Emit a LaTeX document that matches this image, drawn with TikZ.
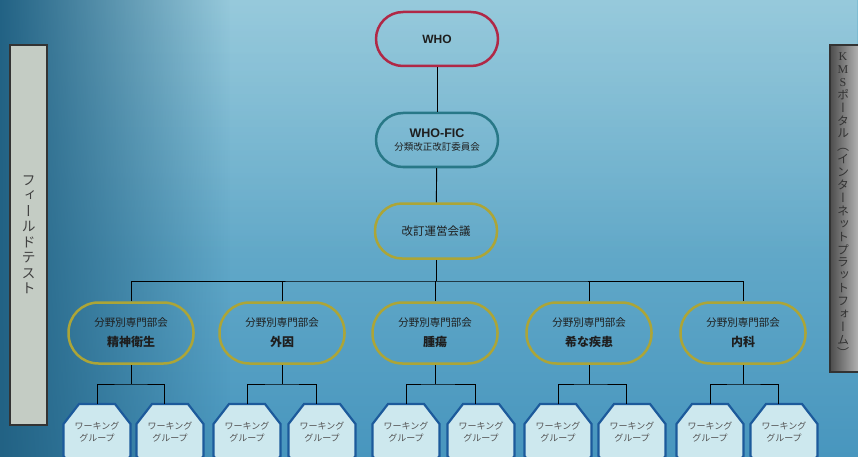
\documentclass[tikz,border=0pt]{standalone}
\usepackage{fontspec}
\newfontfamily\jp{Noto Sans CJK JP}
\newfontfamily\jpv[RawFeature=+vert]{Noto Sans CJK JP}
\newfontfamily\lat{Liberation Sans}
\newfontfamily\latser{Liberation Serif}
\usetikzlibrary{fadings}
\definecolor{bgtop}{RGB}{128,190,212}
\definecolor{bgbot}{RGB}{72,150,190}
\definecolor{bgdark}{RGB}{34,98,132}
\definecolor{whored}{RGB}{176,40,70}
\definecolor{ficteal}{RGB}{40,120,135}
\definecolor{olivebd}{RGB}{172,165,55}
\definecolor{octfill}{RGB}{205,232,238}
\definecolor{octline}{RGB}{28,90,155}
\definecolor{barfill}{RGB}{196,204,196}
\definecolor{txt}{RGB}{30,30,30}
\definecolor{octtxt}{RGB}{85,85,85}
\begin{document}
\begin{tikzpicture}[x=1pt,y=-1pt,
  pill/.style={draw, line width=2.5pt, rounded corners=27pt, minimum width=122pt,
    minimum height=54pt, inner sep=0pt, align=center, text=txt,
    font=\jp\fontsize{11.5}{14}\selectfont},
  bunya/.style={pill, draw=olivebd, minimum width=125pt, minimum height=61pt,
    rounded corners=30pt, font=\jp\fontsize{10.5}{13}\selectfont},
  conn/.style={draw=black, line width=0.9pt},
  octo/.style={draw=octline, fill=octfill, line width=2.2pt},
  wgtext/.style={anchor=north, minimum width=67pt, minimum height=56pt, inner sep=0pt,
    align=center, text=octtxt, font=\jp\fontsize{9}{11.5}\selectfont},
  sidebar/.style={draw=black!80, line width=1.2pt, inner sep=0pt}
]
\useasboundingbox (0,0) rectangle (858,457);
\clip (0,0) rectangle (858,457);
% background
\shade[top color=bgtop, bottom color=bgbot] (0,0) rectangle (858,457);
\fill[white, opacity=0.18, path fading=south] (0,0) rectangle (858,260);
\fill[bgdark, path fading=east] (0,0) rectangle (230,457);

% side bars
\node[sidebar, fill=barfill, minimum width=37pt, minimum height=380pt] (field) at (28.5,235) {};
\node[text=black!75, align=center, inner sep=0pt, font=\jpv\fontsize{14}{15.5}\selectfont] (fieldtxt) at (28.5,235)
  {フ\\ィ\\ー\\ル\\ド\\テ\\ス\\ト};
\node[sidebar, left color=black!70, right color=black!8, minimum width=44pt, minimum height=327pt] (kmsbar) at (852,208.5) {};
\node[text=black!80, align=center, inner sep=0pt, font=\jpv\fontsize{12}{12.9}\selectfont] (kms) at (843,205)
  {{\latser K}\\{\latser M}\\{\latser S}\\ポ\\ー\\タ\\ル\\（\\イ\\ン\\タ\\ー\\ネ\\ッ\\ト\\プ\\ラ\\ッ\\ト\\フ\\ォ\\ー\\ム\\）};

% top hierarchy
\node[pill, draw=whored, font=\lat\bfseries\fontsize{12}{14}\selectfont] (who) at (437,39) {WHO};
\node[pill, draw=ficteal] (fic) at (437,140)
  {{\lat\bfseries\fontsize{12.5}{14}\selectfont WHO-FIC}\\[-1pt]{\fontsize{9.5}{12}\selectfont 分類改正改訂委員会}};
\node[pill, draw=olivebd, minimum height=55pt] (unei) at (436,231) {改訂運営会議};

% subject committees
\node[bunya] (b1) at (131,333) {分野別専門部会\\[7pt]{\bfseries\fontsize{12}{14}\selectfont 精神衛生}};
\node[bunya] (b2) at (282,333) {分野別専門部会\\[7pt]{\bfseries\fontsize{12}{14}\selectfont 外因}};
\node[bunya] (b3) at (435,333) {分野別専門部会\\[7pt]{\bfseries\fontsize{12}{14}\selectfont 腫瘍}};
\node[bunya] (b4) at (589,333) {分野別専門部会\\[7pt]{\bfseries\fontsize{12}{14}\selectfont 希な疾患}};
\node[bunya] (b5) at (743,333) {分野別専門部会\\[7pt]{\bfseries\fontsize{12}{14}\selectfont 内科}};

% connectors top
\coordinate (hub) at (436,281);
\draw[conn] (who) -- (fic);
\draw[conn] (fic) -- (unei);
\draw[conn] (unei) -- (hub);
\draw[conn] (b1.north) |- (hub) -| (b5.north);
\draw[conn] (b2.north) -- (b2.north |- hub);
\draw[conn] (b3.north) -- (b3.north |- hub);
\draw[conn] (b4.north) -- (b4.north |- hub);

% working groups
\foreach \n/\a/\b/\c in {1/97/170/131, 2/247/322/282, 3/406/481/435, 4/558/632/589, 5/710/784/743}{
  \draw[octo] (\a-18,404) -- (\a+18,404) -- (\a+33.5,424) -- (\a+33.5,456) -- (\a+18,476)
    -- (\a-18,476) -- (\a-33.5,456) -- (\a-33.5,424) -- cycle;
  \draw[octo] (\b-18,404) -- (\b+18,404) -- (\b+33.5,424) -- (\b+33.5,456) -- (\b+18,476)
    -- (\b-18,476) -- (\b-33.5,456) -- (\b-33.5,424) -- cycle;
  \node[wgtext] (wa\n) at (\a,404) {ワーキング\\グループ};
  \node[wgtext] (wb\n) at (\b,404) {ワーキング\\グループ};
  \coordinate (j\n) at (\c,384);
  \draw[conn] (b\n) -- (j\n);
  \draw[conn] (wa\n.north) |- (j\n) -| ([xshift=-6pt]wb\n.north);
}
\end{tikzpicture}
\end{document}
